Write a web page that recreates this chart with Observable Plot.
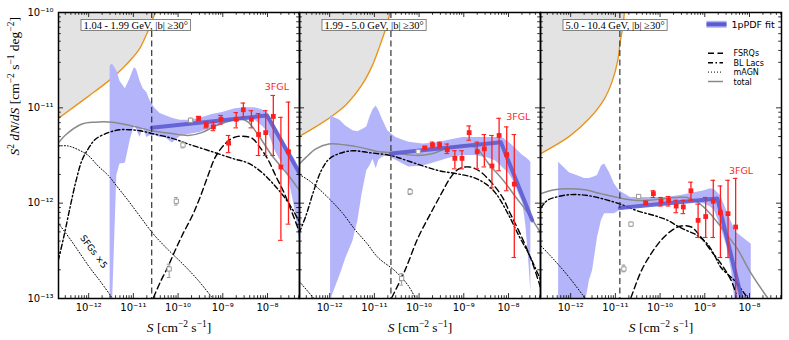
<!DOCTYPE html>
<html><head><meta charset="utf-8">
<script src="https://cdn.jsdelivr.net/npm/d3@7"></script>
<script src="https://cdn.jsdelivr.net/npm/@observablehq/plot@0.6"></script>
<style>
body{margin:0;background:#fff;}
#chart{width:789px;height:340px;}
</style></head><body><div id="chart"></div>
<script>
// ---------- DATA (log10 values) ----------
const panels = ["p1", "p2", "p3"];
const energyLabels = ["1.04 - 1.99 GeV, |b| \u226530\u00b0", "1.99 - 5.0 GeV, |b| \u226530\u00b0", "5.0 - 10.4 GeV, |b| \u226530\u00b0"];
const legendLabels = ["FSRQs", "BL Lacs", "mAGN", "total"];
const xLabelText = "S [cm-2 s-1]";
const yLabelText = "S2 dN/dS [cm-2 s-1 deg-2]";
const xTicks = [1e-12, 1e-11, 1e-10, 1e-9, 1e-8];
const yTicks = [1e-13, 1e-12, 1e-11, 1e-10];

// sensitivity (grey region boundary)
const sensLogS = [
  [-12.68, -12.01, -11.56, -11.25, -11.03, -10.85, -10.67, -10.51],
  [-12.68, -12.02, -11.64, -11.28, -11.05, -10.88, -10.74, -10.65],
  [-12.67, -12.03, -11.58, -11.24, -11.07, -10.95, -10.89, -10.83, -10.80]];
const sensLogY = [
  [-11.11, -10.88, -10.72, -10.59, -10.48, -10.37, -10.19, -10.00],
  [-11.30, -11.11, -10.97, -10.76, -10.56, -10.35, -10.16, -10.00],
  [-11.48, -11.30, -11.11, -10.90, -10.72, -10.51, -10.30, -10.14, -10.00]];

// flux threshold
const threshLogS = [-10.59, -10.63, -10.90];

// 1pPDF uncertainty band
const bandLogS = [
  [-11.52, -11.47, -11.37, -11.30, -11.18, -11.07, -10.99, -10.96, -10.92, -10.85, -10.78, -10.70, -10.62, -10.51, -10.40, -10.29, -10.13, -9.95, -9.77, -9.51, -9.24, -9.01, -8.72, -8.50, -8.28, -8.12, -7.98, -7.83, -7.67, -7.54, -7.40, -7.28],
  [-11.98, -11.95, -11.77, -11.64, -11.48, -11.37, -11.28, -11.17, -11.10, -11.03, -10.96, -10.90, -10.83, -10.70, -10.52, -10.23, -9.91, -9.62, -9.33, -9.02, -8.73, -8.44, -8.28, -8.12, -7.99, -7.90, -7.68, -7.61, -7.54, -7.50],
  [-12.27, -12.03, -11.80, -11.69, -11.58, -11.51, -11.40, -11.31, -11.24, -11.13, -11.02, -10.91, -10.66, -10.28, -9.90, -9.54, -9.23, -9.01, -8.87, -8.78, -8.65, -8.51, -8.40, -8.31, -8.18, -7.96]];
const bandHiLogY = [
  [-10.56, -10.54, -10.61, -10.72, -10.80, -10.69, -10.59, -10.58, -10.61, -10.72, -10.80, -10.84, -10.93, -11.01, -11.06, -11.08, -11.11, -11.13, -11.13, -11.11, -11.07, -11.05, -11.01, -11.00, -11.00, -11.02, -11.06, -11.19, -11.32, -11.43, -11.53, -11.64],
  [-11.08, -11.09, -11.13, -11.19, -11.24, -11.25, -11.23, -11.20, -11.10, -11.02, -10.98, -11.03, -11.11, -11.24, -11.31, -11.36, -11.38, -11.37, -11.34, -11.31, -11.31, -11.31, -11.31, -11.32, -11.36, -11.40, -11.50, -11.52, -11.55, -11.57],
  [-11.57, -11.68, -11.72, -11.74, -11.74, -11.73, -11.71, -11.61, -11.59, -11.68, -11.80, -11.87, -11.94, -11.94, -11.94, -11.92, -11.89, -11.87, -11.85, -11.86, -11.92, -12.08, -12.20, -12.30, -12.35, -12.43]];
const bandLoLogY = [
  [-13.1, -13.1, -11.71, -11.59, -11.58, -11.34, -11.21, -11.18, -11.24, -11.31, -11.21, -11.31, -11.29, -11.29, -11.31, -11.31, -11.37, -11.30, -11.28, -11.26, -11.21, -11.18, -11.13, -11.13, -11.13, -11.19, -11.26, -11.45, -11.59, -11.71, -12.03, -12.41],
  [-13.1, -12.98, -12.76, -12.58, -12.40, -12.19, -11.92, -11.66, -11.61, -11.54, -11.64, -11.55, -11.52, -11.50, -11.55, -11.62, -11.61, -11.57, -11.53, -11.50, -11.50, -11.53, -11.56, -11.63, -11.69, -11.76, -12.00, -12.24, -12.65, -12.94],
  [-13.1, -13.1, -13.1, -13.1, -12.81, -12.71, -12.36, -12.18, -12.11, -12.11, -12.11, -12.08, -12.05, -12.03, -12.01, -11.99, -11.99, -12.01, -12.04, -12.08, -12.24, -12.45, -12.71, -13.1, -13.1, -13.1]];

// 1pPDF best fit (broken power law)
const fitLogS = [[-10.59, -8.01, -7.28], [-10.63, -8.17, -7.47], [-10.90, -8.72, -8.15]];
const fitLogY = [[-11.21, -11.08, -11.69], [-11.48, -11.36, -12.18], [-12.05, -11.95, -13.05]];

// total model
const totLogS = [
  [-12.68, -12.53, -12.15, -11.86, -11.48, -11.03, -10.59, -10.14, -9.77, -9.47, -9.17, -8.87, -8.57, -8.43, -8.20, -7.90, -7.53, -7.28],
  [-12.68, -12.53, -12.31, -12.02, -11.64, -11.26, -10.90, -10.63, -10.29, -10.00, -9.69, -9.40, -9.11, -8.88, -8.66, -8.44, -8.12, -7.83, -7.54, -7.26],
  [-12.67, -12.36, -12.07, -11.69, -11.33, -10.95, -10.57, -10.28, -9.90, -9.61, -9.39, -9.16, -8.94, -8.72, -8.49, -8.27, -7.96, -7.60]];
const totLogY = [
  [-11.37, -11.29, -11.17, -11.15, -11.15, -11.19, -11.24, -11.27, -11.29, -11.26, -11.19, -11.14, -11.12, -11.15, -11.29, -11.50, -11.71, -11.87],
  [-11.59, -11.52, -11.43, -11.38, -11.39, -11.42, -11.46, -11.47, -11.49, -11.50, -11.48, -11.43, -11.40, -11.39, -11.45, -11.59, -11.76, -11.94, -12.12, -12.33],
  [-11.90, -11.86, -11.85, -11.86, -11.90, -11.94, -11.97, -11.97, -11.95, -11.94, -11.94, -11.99, -12.08, -12.20, -12.34, -12.48, -12.74, -12.99]];

// BL Lacs
const bllLogS = [
  [-12.68, -12.56, -12.41, -12.28, -12.15, -12.01, -11.85, -11.56, -11.30, -11.07, -10.85, -10.58, -10.13, -9.77, -9.24, -8.79, -8.43, -8.12, -7.83, -7.54, -7.28],
  [-12.68, -12.53, -12.37, -12.19, -12.02, -11.79, -11.48, -11.12, -10.63, -10.29, -9.91, -9.55, -9.17, -8.79, -8.50, -8.28, -7.99, -7.77, -7.56, -7.41, -7.26],
  [-12.67, -12.52, -12.36, -12.00, -11.62, -11.24, -10.89, -10.51, -10.13, -9.83, -9.61, -9.39, -9.16, -8.94, -8.78, -8.63, -8.34, -8.11, -8.00]];
const bllLogY = [
  [-12.60, -12.36, -12.03, -11.76, -11.55, -11.43, -11.33, -11.26, -11.23, -11.23, -11.24, -11.27, -11.32, -11.38, -11.46, -11.53, -11.58, -11.68, -11.82, -11.99, -12.20],
  [-12.31, -12.13, -11.89, -11.66, -11.54, -11.48, -11.45, -11.47, -11.50, -11.55, -11.61, -11.66, -11.69, -11.73, -11.80, -11.90, -12.13, -12.34, -12.52, -12.67, -12.83],
  [-12.05, -11.97, -11.94, -11.91, -11.92, -11.96, -12.01, -12.08, -12.13, -12.18, -12.24, -12.29, -12.34, -12.43, -12.55, -12.68, -12.81, -12.95, -13.02]];

// FSRQs
const fsrqLogS = [
  [-10.55, -10.40, -10.24, -10.07, -9.89, -9.68, -9.51, -9.33, -9.17, -9.01, -8.83, -8.66, -8.50, -8.34, -8.16, -7.98, -7.81, -7.63, -7.45, -7.28],
  [-10.61, -10.32, -10.02, -9.71, -9.49, -9.31, -9.11, -8.88, -8.66, -8.35, -8.12, -7.99, -7.70, -7.47, -7.26],
  [-10.65, -10.42, -10.20, -9.98, -9.75, -9.53, -9.30, -9.08, -8.86, -8.63, -8.41, -8.30]];
const fsrqLogY = [
  [-12.99, -12.83, -12.68, -12.50, -12.32, -12.13, -11.94, -11.71, -11.52, -11.41, -11.33, -11.30, -11.30, -11.32, -11.42, -11.55, -11.72, -11.89, -12.10, -12.31],
  [-12.99, -12.71, -12.36, -12.08, -11.89, -11.74, -11.64, -11.62, -11.66, -11.80, -11.95, -12.08, -12.36, -12.62, -12.92],
  [-12.99, -12.71, -12.53, -12.39, -12.29, -12.24, -12.25, -12.36, -12.50, -12.64, -12.81, -12.95]];

// mAGN
const magnLogS = [
  [-12.68, -12.46, -12.23, -12.01, -11.79, -11.56, -11.34, -11.12, -10.85, -10.56, -10.22, -9.89, -9.55, -9.24],
  [-12.68, -12.44, -12.04, -11.72, -11.43, -11.17, -10.92, -10.54, -10.25, -10.09],
  [-12.66, -12.36, -12.03, -11.69]];
const magnLogY = [
  [-11.40, -11.40, -11.44, -11.50, -11.61, -11.71, -11.84, -11.97, -12.14, -12.32, -12.49, -12.64, -12.81, -12.99],
  [-11.70, -11.77, -11.94, -12.10, -12.28, -12.42, -12.57, -12.71, -12.86, -12.99],
  [-12.45, -12.60, -12.78, -12.99]];

// SFGs x5
const sfgLogS = [[-12.68, -12.41, -12.19, -11.97, -11.74, -11.48], [-12.68, -12.37], []];
const sfgLogY = [[-12.21, -12.38, -12.53, -12.68, -12.82, -12.99], [-12.82, -12.99], []];
const sfgLabelLogS = -11.89, sfgLabelLogY = -12.51;

// open grey squares
const grayLogS = [[-10.20, -10.04, -9.89, -9.72], [-10.39, -10.20, -10.02], [-10.81, -10.65, -10.48]];
const grayLogY = [[-12.69, -11.98, -11.39, -11.13], [-12.79, -11.88, -11.46], [-12.69, -12.22, -11.93]];
const grayLoLogY = [[-12.78, -12.02, -11.42, -11.15], [-12.86, -11.91, -11.48], [-12.72, -12.24, -11.95]];
const grayHiLogY = [[-12.64, -11.94, -11.36, -11.11], [-12.74, -11.85, -11.44], [-12.65, -12.20, -11.91]];

// 3FGL points
const fglLogS = [
  [-9.54, -9.37, -9.21, -9.04, -8.87, -8.70, -8.54, -8.36, -8.20, -8.04, -7.87, -7.70, -7.53],
  [-9.87, -9.70, -9.54, -9.37, -9.20, -9.04, -8.88, -8.70, -8.54, -8.37, -8.21, -8.04, -7.87],
  [-10.32, -10.15, -9.98, -9.81, -9.64, -9.48, -9.31, -9.15, -8.98, -8.81, -8.65, -8.48, -8.31]];
const fglLogY = [
  [-11.11, -11.18, -11.20, -11.12, -11.37, -11.12, -11.02, -11.12, -11.28, -11.26, -11.09, -11.62, -11.46],
  [-11.42, -11.39, -11.39, -11.44, -11.53, -11.53, -11.26, -11.46, -11.43, -11.61, -11.29, -11.49, -11.80],
  [-12.00, -11.90, -11.98, -11.97, -12.03, -12.04, -11.87, -12.18, -12.14, -11.98, -12.10, -12.11, -12.25]];
const fglHiLogY = [
  [-11.09, -11.15, -11.15, -11.08, -11.29, -11.05, -10.95, -11.03, -11.06, -11.03, -10.87, -11.10, -10.94],
  [-11.41, -11.36, -11.36, -11.38, -11.45, -11.45, -11.19, -11.36, -11.28, -11.29, -11.11, -11.20, -11.28],
  [-11.98, -11.87, -11.94, -11.93, -11.97, -11.97, -11.78, -12.01, -11.94, -11.76, -11.82, -11.76, -11.74]];
const fglLoLogY = [
  [-11.13, -11.21, -11.24, -11.17, -11.47, -11.21, -11.10, -11.21, -11.50, -11.50, -11.50, -12.39, -12.22],
  [-11.43, -11.42, -11.42, -11.48, -11.64, -11.64, -11.34, -11.64, -11.62, -11.84, -11.66, -11.87, -12.57],
  [-12.01, -11.94, -12.03, -12.03, -12.10, -12.11, -11.97, -12.36, -12.36, -12.36, -12.57, -12.57, -13.1]];
const fglTagLogS = [-7.79, -7.78, -8.19];
const fglTagLogY = [-10.78, -11.10, -11.66];

// ---------- BUILD ----------
const P = v => Math.pow(10, v);
const pair = (S, Y) => panels.flatMap((p, i) => S[i].map((s, j) => ({panel: p, S: P(s), Y: P(Y[i][j])})));
const sens = pair(sensLogS, sensLogY);
const fit = pair(fitLogS, fitLogY);
const tot = pair(totLogS, totLogY);
const bll = pair(bllLogS, bllLogY);
const fsrq = pair(fsrqLogS, fsrqLogY);
const magn = pair(magnLogS, magnLogY);
const sfg = pair(sfgLogS, sfgLogY);
const band = panels.flatMap((p, i) => bandLogS[i].map((s, j) => ({panel: p, S: P(s), lo: P(bandLoLogY[i][j]), hi: P(bandHiLogY[i][j])})));
const gray = panels.flatMap((p, i) => grayLogS[i].map((s, j) => ({panel: p, S: P(s), Y: P(grayLogY[i][j]), lo: P(grayLoLogY[i][j]), hi: P(grayHiLogY[i][j])})));
const red = panels.flatMap((p, i) => fglLogS[i].map((s, j) => ({panel: p, S: P(s), Y: P(fglLogY[i][j]), lo: P(fglLoLogY[i][j]), hi: P(fglHiLogY[i][j])})));
const thresh = panels.map((p, i) => ({panel: p, S: P(threshLogS[i])}));
const fglTags = panels.map((p, i) => ({panel: p, S: P(fglTagLogS[i]), Y: P(fglTagLogY[i])}));
const energy = panels.map((p, i) => ({panel: p, label: energyLabels[i]}));

const W = 789, H = 340, mL = 58, mR = 8, mT = 12, mB = 42;
const fW = (W - mL - mR) / 3;
const xDom = [P(-12.675), P(-7.284)];
const yDom = [1e-13, 1e-10];

const sup = {"-": "\u207b", "0": "\u2070", "1": "\u00b9", "2": "\u00b2", "3": "\u00b3", "4": "\u2074", "5": "\u2075", "6": "\u2076", "7": "\u2077", "8": "\u2078", "9": "\u2079"};
const fmt = d => "10" + String(Math.round(Math.log10(d))).split("").map(c => sup[c]).join("");

const xMinor = [], yMinor = [];
for (let e = -13; e <= -7; e++) for (let k = 2; k <= 9; k++) {
  const v = k * Math.pow(10, e);
  if (v > xDom[0] && v < xDom[1]) xMinor.push(v);
  if (v > yDom[0] && v < yDom[1]) yMinor.push(v);
}
const tk = {stroke: "black", strokeWidth: 0.8};
const xTickMarks = (vals, len) => [
  Plot.ruleX(vals, {x: d => d, y1: () => yDom[0], y2: () => yDom[0], insetTop: -len, ...tk}),
  Plot.ruleX(vals, {x: d => d, y1: () => yDom[1], y2: () => yDom[1], insetBottom: -len, ...tk})];
const yTickMarks = (vals, len) => [
  Plot.ruleY(vals, {y: d => d, x1: () => xDom[0], x2: () => xDom[0], insetRight: -len, ...tk}),
  Plot.ruleY(vals, {y: d => d, x1: () => xDom[1], x2: () => xDom[1], insetLeft: -len, ...tk})];

const bandColor = "#b4b4fa", fitColor = "#5c5cd2";
const dashFSRQ = "6,3.5", dashBLL = "5,2.5,1.5,2.5", dashMAGN = "1,2";
const redColor = "#ff1f1f";
const lineOpt = {fx: "panel", x: "S", y: "Y", clip: true, curve: "catmull-rom"};

const marks = [
  Plot.areaY(sens, {fx: "panel", x: "S", y1: "Y", y2: () => yDom[1], fill: "#e3e3e3", curve: "catmull-rom", clip: true}),
  Plot.line(sens, {...lineOpt, stroke: "#e8931c", strokeWidth: 1.4}),
  Plot.areaY(band, {fx: "panel", x: "S", y1: "lo", y2: "hi", fill: bandColor, clip: true}),
  Plot.line(sfg, {...lineOpt, stroke: "black", strokeWidth: 1, strokeDasharray: dashMAGN}),
  Plot.line(magn, {...lineOpt, stroke: "black", strokeWidth: 1, strokeDasharray: dashMAGN}),
  Plot.line(bll, {...lineOpt, stroke: "black", strokeWidth: 1.4, strokeDasharray: dashBLL}),
  Plot.line(fsrq, {...lineOpt, stroke: "black", strokeWidth: 1.4, strokeDasharray: dashFSRQ}),
  Plot.line(tot, {...lineOpt, stroke: "#8a8a8a", strokeWidth: 1.5}),
  Plot.line(fit, {fx: "panel", x: "S", y: "Y", clip: true, stroke: fitColor, strokeOpacity: 0.9, strokeWidth: 4}),
  Plot.ruleX(thresh, {fx: "panel", x: "S", stroke: "#333", strokeWidth: 1.2, strokeDasharray: dashFSRQ}),
  Plot.ruleX(gray, {fx: "panel", x: "S", y1: "lo", y2: "hi", stroke: "#999", strokeWidth: 1, clip: true}),
  Plot.ruleY(gray, {fx: "panel", y: "lo", x1: "S", x2: "S", insetLeft: -1.8, insetRight: -1.8, stroke: "#999", clip: true}),
  Plot.ruleY(gray, {fx: "panel", y: "hi", x1: "S", x2: "S", insetLeft: -1.8, insetRight: -1.8, stroke: "#999", clip: true}),
  Plot.dot(gray, {fx: "panel", x: "S", y: "Y", symbol: "square", r: 2.4, fill: "white", stroke: "#999", strokeWidth: 1}),
  Plot.ruleX(red, {fx: "panel", x: "S", y1: "lo", y2: "hi", stroke: redColor, strokeWidth: 1.3, clip: true}),
  Plot.ruleY(red, {fx: "panel", y: "lo", x1: "S", x2: "S", insetLeft: -2.3, insetRight: -2.3, stroke: redColor, strokeWidth: 1.1, clip: true}),
  Plot.ruleY(red, {fx: "panel", y: "hi", x1: "S", x2: "S", insetLeft: -2.3, insetRight: -2.3, stroke: redColor, strokeWidth: 1.1, clip: true}),
  Plot.dot(red, {fx: "panel", x: "S", y: "Y", symbol: "square", r: 2.7, fill: redColor}),
  Plot.text(fglTags, {fx: "panel", x: "S", y: "Y", text: () => "3FGL", fill: redColor, fontSize: 9.5, fontFamily: "DejaVu Sans"}),
  Plot.text([{panel: "p1", S: P(sfgLabelLogS), Y: P(sfgLabelLogY)}], {fx: "panel", x: "S", y: "Y", text: () => "SFGs \u00d75", rotate: 53, fontSize: 9, fontFamily: "DejaVu Sans", fill: "black"}),
  Plot.text(energy, {fx: "panel", text: "label", frameAnchor: "top-left", dx: 25, dy: 12.7, textAnchor: "start", lineAnchor: "middle", fontFamily: "Liberation Serif", fontSize: 10.5, fill: "black"}),
  Plot.text(["p3"], {fx: d => d, text: () => "1pPDF fit", frameAnchor: "top-left", dx: 191, dy: 12.3, textAnchor: "start", lineAnchor: "middle", fontFamily: "DejaVu Sans", fontSize: 9.5}),
  ...legendLabels.map((lab, i) => Plot.text(["p3"], {fx: d => d, text: () => lab, frameAnchor: "top-left", dx: 193, dy: 41.3 + 9.4 * i, textAnchor: "start", lineAnchor: "middle", fontFamily: "DejaVu Sans", fontSize: 8})),
  Plot.text(panels, {fx: d => d, text: () => xLabelText, frameAnchor: "bottom", dy: 29, lineAnchor: "middle", fontFamily: "Liberation Serif", fontSize: 13.5}),
  Plot.text(["p1"], {fx: d => d, text: () => yLabelText, frameAnchor: "left", dx: -44, rotate: -90, lineAnchor: "middle", fontFamily: "Liberation Serif", fontSize: 13.5}),
  Plot.frame({stroke: "black", strokeWidth: 1.5}),
  ...xTickMarks(xTicks, 5), ...xTickMarks(xMinor, 2.8),
  ...yTickMarks(yTicks, 5), ...yTickMarks(yMinor, 2.8)
];

const chart = Plot.plot({
  width: W, height: H,
  marginLeft: mL, marginRight: mR, marginTop: mT, marginBottom: mB,
  style: {fontFamily: "DejaVu Sans", fontSize: "10px", background: "white", color: "black"},
  fx: {domain: panels, padding: 0, axis: null},
  x: {type: "log", domain: xDom, ticks: xTicks, tickFormat: fmt, tickSize: 0, tickPadding: 5, label: null},
  y: {type: "log", domain: yDom, ticks: yTicks, tickFormat: fmt, tickSize: 0, tickPadding: 5, label: null},
  marks
});
document.getElementById("chart").append(chart);

// ---------- post-render decorations ----------
const svg = d3.select(chart);
const byText = s => svg.selectAll("text").filter(function () { return this.textContent === s; });
energyLabels.forEach(lab => byText(lab).each(function () {
  const b = this.getBBox();
  d3.select(this.parentNode).insert("rect", () => this)
    .attr("x", b.x - 2.5).attr("y", b.y).attr("width", b.width + 5).attr("height", b.height)
    .attr("transform", this.getAttribute("transform"))
    .attr("fill", "white").attr("stroke", "#666").attr("stroke-width", 0.8);
}));
function rich(node, parts) {
  const t = d3.select(node); t.text(null);
  parts.forEach(([s, k]) => {
    const ts = t.append("tspan").text(s);
    if (k === "i") ts.attr("font-style", "italic");
    if (k === "s") ts.attr("baseline-shift", "super").attr("font-size", "70%");
  });
}
byText(xLabelText).each(function () {
  rich(this, [["S", "i"], [" [cm", ""], ["\u22122", "s"], [" s", ""], ["\u22121", "s"], ["]", ""]]);
});
byText(yLabelText).each(function () {
  rich(this, [["S", "i"], ["2", "s"], [" ", ""], ["dN", "i"], ["/", ""], ["dS", "i"], [" [cm", ""], ["\u22122", "s"], [" s", ""], ["\u22121", "s"], [" deg", ""], ["\u22122", "s"], ["]", ""]]);
});
// legend swatches
const L3 = mL + 2 * fW;
const lg = svg.append("g");
lg.append("rect").attr("x", L3 + 166.5).attr("y", mT + 12.3 - 3.5).attr("width", 20).attr("height", 7).attr("fill", bandColor);
lg.append("line").attr("x1", L3 + 166.5).attr("x2", L3 + 186.5).attr("y1", mT + 12.3).attr("y2", mT + 12.3)
  .attr("stroke", fitColor).attr("stroke-width", 4);
const sw = [[dashFSRQ, "black", 1.4], [dashBLL, "black", 1.4], [dashMAGN, "black", 1], [null, "#8a8a8a", 1.5]];
sw.forEach(([dash, col, w], i) => {
  const y = mT + 41.3 + 9.4 * i;
  const l = lg.append("line").attr("x1", L3 + 168).attr("x2", L3 + 183).attr("y1", y).attr("y2", y)
    .attr("stroke", col).attr("stroke-width", w);
  if (dash) l.attr("stroke-dasharray", dash);
});
</script></body></html>
